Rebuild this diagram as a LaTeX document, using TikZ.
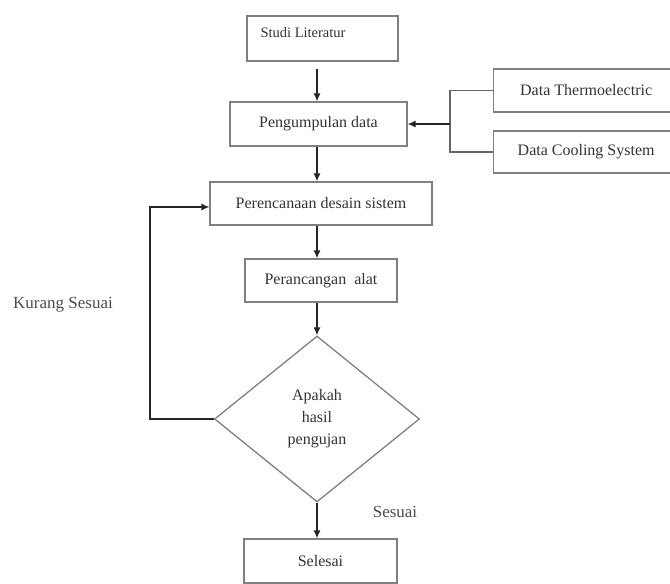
\documentclass[tikz,border=0pt]{standalone}
\usepackage{fontspec}
\setmainfont{Liberation Serif}
\usetikzlibrary{
    shapes,
    arrows.meta,
    positioning,
    shapes.geometric
}

\begin{document}
\begin{tikzpicture}[
    x=1pt, y=-1pt,
    step-box/.style={draw=black!50, line width=1.3pt, text=black!80, inner sep=0pt,
        font=\fontsize{16}{19}\selectfont},
    decision/.style={diamond, draw=black!50, line width=1.3pt, text=black!80, inner sep=0pt,
        align=center, font=\fontsize{16}{22}\selectfont},
    flow/.style={-{Latex[length=8pt,width=7pt]}, line width=1.2pt, black!85},
    join-line/.style={draw=black!60, line width=1.3pt},
    side-text/.style={text=black!70, font=\fontsize{17}{20}\selectfont}
    ]

    \useasboundingbox (0, 0) rectangle (670, 584);

    \node[step-box, minimum width=151pt, minimum height=45pt] at (322.5, 38.5) (studi) {};
    \node[text=black!80, anchor=west, font=\fontsize{14.5}{17}\selectfont] at (257, 33) (studi-text) {Studi Literatur};
    \node[step-box, minimum width=177pt, minimum height=44pt] at (318.5, 124) (pengumpulan) {Pengumpulan data};
    \node[step-box, minimum width=185pt, minimum height=43pt, anchor=west] at (493, 90.5) (thermo) {Data Thermoelectric};
    \node[step-box, minimum width=185pt, minimum height=42pt, anchor=west] at (493, 152) (cooling) {Data Cooling System};
    \node[step-box, minimum width=222pt, minimum height=43pt] at (321, 203.5) (perencanaan) {Perencanaan desain sistem};
    \node[step-box, minimum width=152pt, minimum height=43pt] at (321, 280.5) (perancangan) {Perancangan\ \ alat};
    \node[decision, minimum width=205pt, minimum height=166pt] at (317, 419) (cek) {Apakah\\hasil\\pengujan};
    \node[step-box, minimum width=153pt, minimum height=44pt] at (320.5, 561) (selesai) {Selesai};

    \node[side-text] at (63, 305) (kurang) {Kurang Sesuai};
    \node[side-text] at (395, 512) (sesuai) {Sesuai};

    \coordinate (spine) at (317, 0);
    \coordinate (bracket) at (450, 124);
    \coordinate (back) at (150, 207);

    % alur utama
    \draw[flow, shorten <=7pt] (studi.south -| spine) -- (pengumpulan.north -| spine);
    \draw[flow] (pengumpulan.south -| spine) -- (perencanaan.north -| spine);
    \draw[flow] (perencanaan.south -| spine) -- (perancangan.north -| spine);
    \draw[flow] (perancangan.south -| spine) -- (cek.north);
    \draw[flow] (cek.south) -- (selesai.north -| spine);

    % data masuk
    \draw[join-line] (thermo.west) -| (bracket) |- (cooling.west);
    \draw[flow] (bracket) -- (pengumpulan.east);

    % kembali
    \draw[flow] (cek.west) -| (back) -- (back -| perencanaan.west);

\end{tikzpicture}
\end{document}
